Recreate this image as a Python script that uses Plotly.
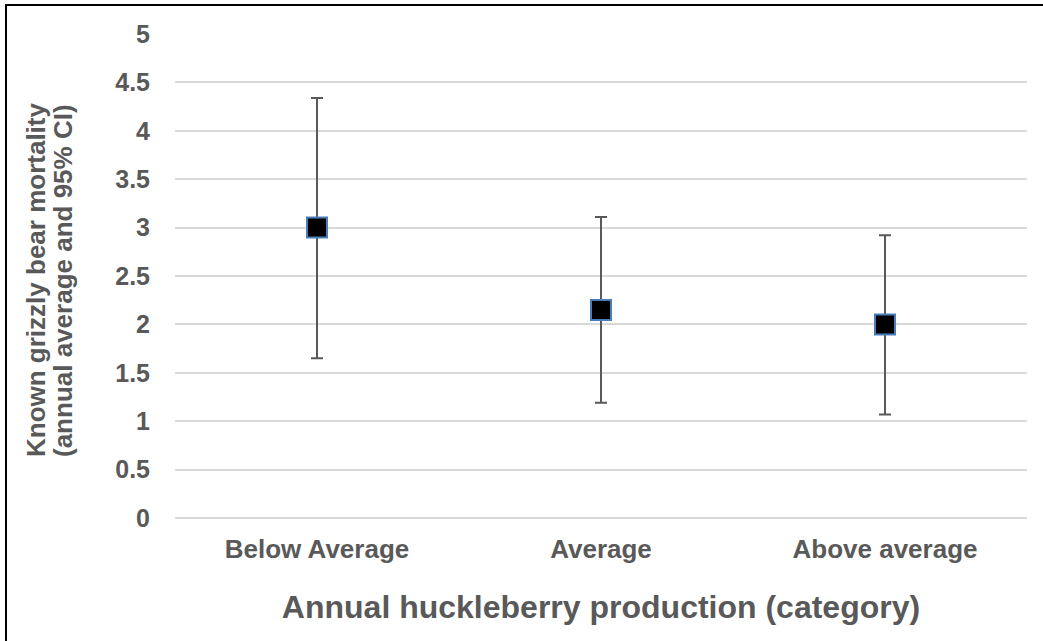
import plotly.graph_objects as go

categories = ["Below Average", "Average", "Above average"]
mean_mortality = [3.0, 2.15, 2.0]
ci_upper = [4.34, 3.11, 2.92]
ci_lower = [1.65, 1.19, 1.07]
y_tick_vals = [0, 0.5, 1, 1.5, 2, 2.5, 3, 3.5, 4, 4.5, 5]
y_tick_text = ["0", "0.5", "1", "1.5", "2", "2.5", "3", "3.5", "4", "4.5", "5"]
y_title_lines = ["Known grizzly bear mortality", "(annual average and 95% CI)"]
x_title = "Annual huckleberry production (category)"

err_plus = [u - m for u, m in zip(ci_upper, mean_mortality)]
err_minus = [m - l for m, l in zip(mean_mortality, ci_lower)]

W, H = 1043, 641
ML, MR, MT, MB = 175, 16, 34, 123
TXT = "#595959"
FONT = "Liberation Sans, Arial, sans-serif"

fig = go.Figure()
fig.add_trace(go.Scatter(
    x=categories, y=mean_mortality, mode="markers",
    marker=dict(symbol="square", size=20, color="black",
                line=dict(color="#4a7ebb", width=2)),
    error_y=dict(type="data", symmetric=False, array=err_plus, arrayminus=err_minus,
                 color="#595959", thickness=2, width=6),
    showlegend=False, hoverinfo="skip",
))

pw = W - ML - MR
ph = H - MT - MB
def px_x(p):
    return (p - ML) / pw
def px_y(p):
    return (H - MB - p) / ph

annotations = []
for line, xc in zip(y_title_lines, [36, 63]):
    annotations.append(dict(
        text=line, textangle=-90, showarrow=False,
        xref="paper", yref="paper", x=px_x(xc), y=px_y(280),
        xanchor="center", yanchor="middle",
        font=dict(size=26, color=TXT, weight="bold", family=FONT),
    ))

fig.update_layout(
    width=W, height=H,
    margin=dict(l=ML, r=MR, t=MT, b=MB, autoexpand=False),
    paper_bgcolor="white", plot_bgcolor="white",
    font=dict(family=FONT, color=TXT),
    xaxis=dict(
        type="category", range=[-0.5, 2.5], showgrid=False, zeroline=False,
        showline=False, ticks="", ticklabelstandoff=13,
        tickfont=dict(size=26, color=TXT, weight="bold"),
        title=dict(text=x_title,
                   font=dict(size=32, color=TXT, weight="bold"), standoff=32),
        automargin=False,
    ),
    yaxis=dict(
        range=[0, 5], tickvals=y_tick_vals, ticktext=y_tick_text,
        showgrid=True, gridcolor="#d9d9d9", gridwidth=2,
        zeroline=True, zerolinecolor="#d9d9d9", zerolinewidth=2,
        showline=False, ticks="", ticklabelstandoff=24,
        tickfont=dict(size=25, color=TXT, weight="bold"),
        automargin=False,
    ),
    annotations=annotations,
    shapes=[
        dict(type="line", xref="paper", yref="paper",
             x0=px_x(6), x1=px_x(6), y0=px_y(5), y1=px_y(H + 10),
             line=dict(color="black", width=2)),
        dict(type="line", xref="paper", yref="paper",
             x0=px_x(5), x1=px_x(W + 10), y0=px_y(5), y1=px_y(5),
             line=dict(color="black", width=2)),
    ],
)

fig.write_html("out.html", config={"displayModeBar": False},
               post_script="document.body.style.margin='0';document.body.style.overflow='hidden';")
